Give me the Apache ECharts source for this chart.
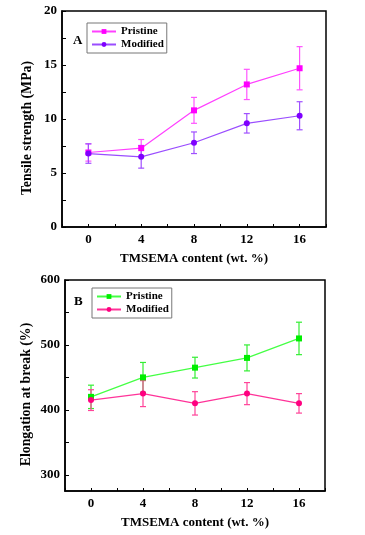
<!DOCTYPE html>
<html><head><meta charset="utf-8">
<script src="https://cdn.jsdelivr.net/npm/echarts@6/dist/echarts.min.js"></script>
<style>html,body{margin:0;padding:0;background:#fff}#c{width:365px;height:535px}</style>
</head><body><div id="c"></div>
<script>
// Shared x values (TMSEMA content, wt. %)
var content = [0, 4, 8, 12, 16];
var contentTicks = [-2, 0, 2, 4, 6, 8, 10, 12, 14, 16, 18];
var contentLabels = [0, 4, 8, 12, 16];

// Panel A: tensile strength (MPa)
var tsTicks = [0, 2.5, 5, 7.5, 10, 12.5, 15, 17.5, 20];
var tsLabels = [0, 5, 10, 15, 20];
var tsPristine = [6.9, 7.3, 10.8, 13.2, 14.7];
var tsPristineErr = [0.8, 0.8, 1.2, 1.4, 2.0];
var tsModified = [6.8, 6.5, 7.8, 9.6, 10.3];
var tsModifiedErr = [0.9, 1.05, 1.0, 0.9, 1.3];

// Panel B: elongation at break (%)
var elTicks = [300, 350, 400, 450, 500, 550, 600];
var elLabels = [300, 400, 500, 600];
var elPristine = [420, 450, 465, 480, 510];
var elPristineErr = [18, 23, 16, 20, 25];
var elModified = [415, 425, 410, 425, 410];
var elModifiedErr = [16, 20, 18, 17, 15];

var FONT = 'Liberation Serif';

function pts(vals){ return content.map(function(x,i){ return [x, vals[i]]; }); }
function errs(vals, e){ return content.map(function(x,i){ return [x, vals[i]-e[i], vals[i]+e[i]]; }); }

function errSeries(name, vals, e, color, xi){
  return {
    type: 'custom', name: name, xAxisIndex: xi, yAxisIndex: xi, z: 1,
    data: errs(vals, e),
    renderItem: function(params, api){
      var x = api.value(0);
      var lo = api.coord([x, api.value(1)]);
      var hi = api.coord([x, api.value(2)]);
      var w = 3;
      var st = {stroke: color, lineWidth: 1.2};
      return {type:'group', children:[
        {type:'line', shape:{x1:lo[0],y1:lo[1],x2:hi[0],y2:hi[1]}, style:st},
        {type:'line', shape:{x1:lo[0]-w,y1:lo[1],x2:lo[0]+w,y2:lo[1]}, style:st},
        {type:'line', shape:{x1:hi[0]-w,y1:hi[1],x2:hi[0]+w,y2:hi[1]}, style:st}
      ]};
    }
  };
}
function lineSeries(name, vals, symbol, mcolor, lcolor, xi){
  return {
    type:'line', name:name, xAxisIndex:xi, yAxisIndex:xi, z: 3,
    data: pts(vals), symbol: symbol, symbolSize: 6,
    itemStyle:{color: mcolor}, lineStyle:{color: lcolor, width: 1.2},
    animation:false
  };
}

var axisLineStyle = {show:true, onZero:false, lineStyle:{color:'#000', width:1.5}};
var labelStyle = {fontFamily: FONT, fontWeight:'bold', fontSize: 13, color:'#000'};
var nameStyle = {fontFamily: FONT, fontWeight:'bold', fontSize: 13, color:'#000'};

function xAxisDef(gi){
  return {
    type:'value', gridIndex: gi, min:-2, max:18,
    axisLine: axisLineStyle,
    axisTick:{show:true, inside:true, length:3, customValues: contentTicks, lineStyle:{color:'#000', width:1}},
    axisLabel: Object.assign({margin:6, customValues: contentLabels}, labelStyle),
    splitLine:{show:false},
    name:'TMSEMA content (wt. %)', nameLocation:'middle', nameGap: 25, nameMoveOverlap:false,
    nameTextStyle: nameStyle
  };
}
function yAxisDef(gi, min, max, ticks, labels, name, gap){
  return {
    type:'value', gridIndex:gi, min:min, max:max,
    axisLine: axisLineStyle,
    axisTick:{show:true, inside:true, length:4, customValues: ticks, lineStyle:{color:'#000', width:1}},
    axisLabel: Object.assign({margin:5, customValues: labels}, labelStyle),
    splitLine:{show:false},
    name:name, nameLocation:'middle', nameGap:gap, nameMoveOverlap:false,
    nameTextStyle: Object.assign({padding:[0,18,0,0]}, nameStyle, {fontSize:13.8})
  };
}
var legendText = {fontFamily:FONT, fontWeight:'bold', fontSize:11, color:'#000'};

var chart = echarts.init(document.getElementById('c'), null, {renderer:'canvas'});
chart.setOption({
  animation:false,
  backgroundColor:'#fff',
  grid:[
    {left:62, top:11, width:264, height:216, show:true, borderColor:'#000', borderWidth:1.5, backgroundColor:'transparent'},
    {left:65, top:280, width:260, height:211, show:true, borderColor:'#000', borderWidth:1.5, backgroundColor:'transparent'}
  ],
  xAxis:[xAxisDef(0), xAxisDef(1)],
  yAxis:[
    yAxisDef(0, 0, 20, tsTicks, tsLabels, 'Tensile strength (MPa)', 28),
    yAxisDef(1, 275, 600, elTicks, elLabels, 'Elongation at break (%)', 32)
  ],
  legend:[
    {data:['Pristine','Modified'], orient:'vertical', left:87, top:23, itemGap:2, itemWidth:24, itemHeight:6,
     borderColor:'#777', borderWidth:1, padding:[3,3,3,4], textStyle:legendText},
    {data:['Pristine (B)','Modified (B)'], orient:'vertical', left:92, top:288, itemGap:2, itemWidth:24, itemHeight:6,
     borderColor:'#777', borderWidth:1, padding:[3,3,3,4],
     formatter:function(n){ return n.replace(' (B)',''); }, textStyle:legendText}
  ],
  graphic:[
    {type:'text', left:73, top:34, style:{text:'A', font:'bold 13px "Liberation Serif"', fill:'#000'}},
    {type:'text', left:74, top:295, style:{text:'B', font:'bold 13px "Liberation Serif"', fill:'#000'}}
  ],
  series:[
    errSeries('errA1', tsPristine, tsPristineErr, '#ff55ff', 0),
    errSeries('errA2', tsModified, tsModifiedErr, '#a050ff', 0),
    lineSeries('Pristine', tsPristine, 'rect', '#ff00ff', '#ff40ff', 0),
    lineSeries('Modified', tsModified, 'circle', '#7f00ff', '#9a4dff', 0),
    errSeries('errB1', elPristine, elPristineErr, '#33ee33', 1),
    errSeries('errB2', elModified, elModifiedErr, '#ff4499', 1),
    lineSeries('Pristine (B)', elPristine, 'rect', '#00ee00', '#44ff44', 1),
    lineSeries('Modified (B)', elModified, 'circle', '#ff0080', '#ff3399', 1)
  ]
});
</script></body></html>
